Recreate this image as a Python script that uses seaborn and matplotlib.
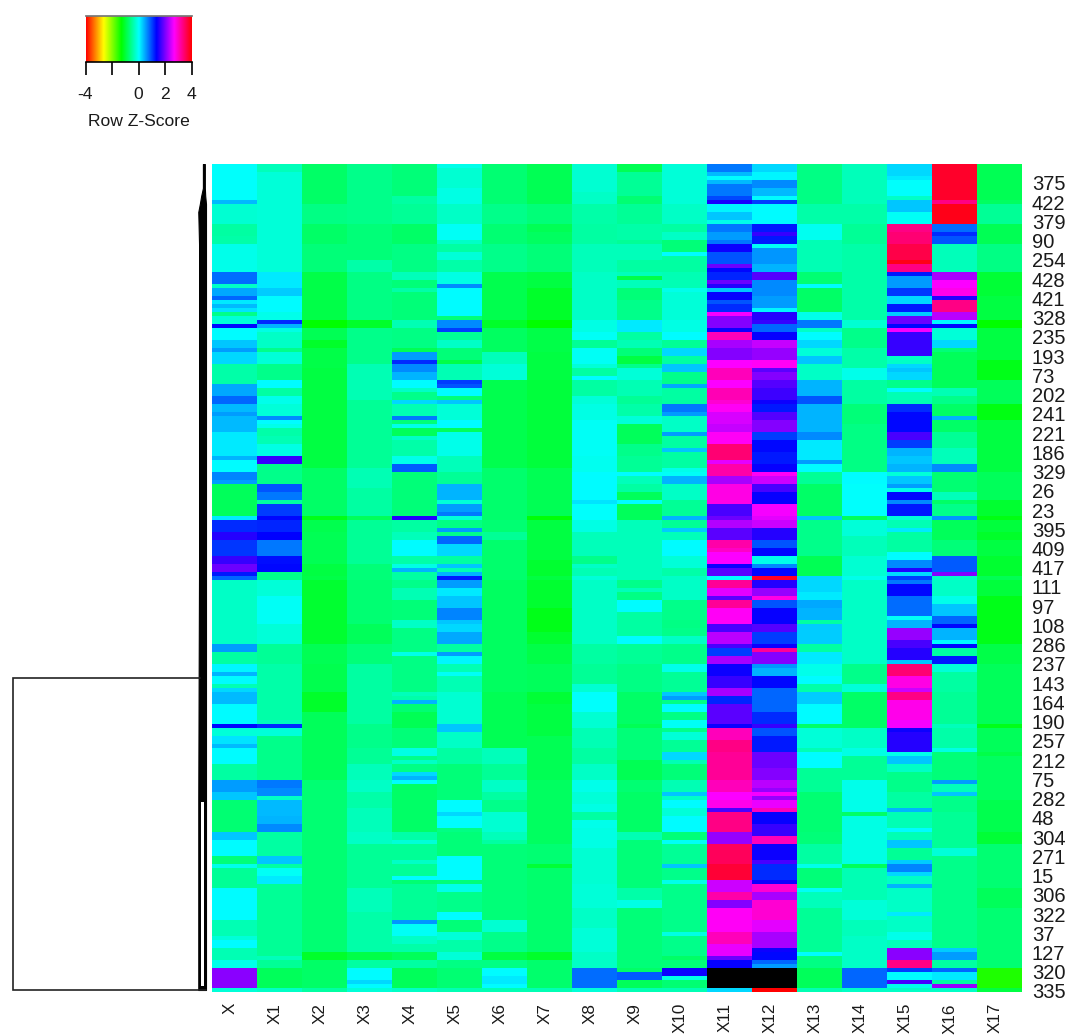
import numpy as np
import pandas as pd
import matplotlib
matplotlib.use("Agg")
import matplotlib.pyplot as plt
from matplotlib.colors import LinearSegmentedColormap
import seaborn as sns

# Each column: (first row of a band, row z-score of that band)
X = [(0,-.03),(9,.35),(10,-.25),(15,-.5),(18,-.45),(20,-.12),(27,.75),(30,-.3),(31,.45),(33,.8),(34,.1),(35,.35),(36,.15),(37,-.6),(38,-.2),(40,1.3),(41,0),(44,.3),(46,.5),(47,.2),(50,-.45),(55,.45),(58,.8),(60,.35),(62,.5),(63,.35),(67,.12),(73,.4),(74,0),(77,.65),(79,.5),(80,-.85),(88,.1),(89,1.1),(92,1.5),(94,1.05),(98,1.6),(100,1.9),(102,1.2),(103,.8),(104,-.3),(120,.5),(122,-.5),(125,.05),(127,.4),(128,0),(130,-.4),(131,.2),(132,.35),(135,0),(140,1.3),(141,-.2),(143,.15),(145,.35),(146,0),(150,-.5),(154,.5),(157,.3),(159,-.72),(167,.3),(169,0),(173,-.7),(175,-.1),(176,-.55),(181,0),(189,-.4),(193,-.2),(194,0),(196,-.4),(199,-.1),(201,2.05),(206,-.2)]
X1 = [(0,-.35),(2,-.2),(27,.1),(31,.25),(33,0),(37,-.1),(39,1.1),(40,.4),(41,-.15),(42,-.3),(46,-.6),(47,-.2),(50,-.6),(54,0),(56,-.5),(58,-.1),(60,-.2),(63,.6),(64,0),(65,-.1),(66,-.45),(68,-.4),(70,-.15),(73,1.6),(75,-.6),(80,.9),(82,.7),(84,-.5),(85,1.0),(88,1.3),(89,1.15),(92,1.33),(94,.7),(98,1.25),(100,1.3),(102,-.6),(104,-.2),(108,-.05),(115,-.2),(120,-.55),(125,-.45),(139,-.35),(140,1.1),(141,-.2),(143,-.6),(154,.7),(156,.6),(158,-.3),(159,.35),(163,.4),(165,.6),(167,-.5),(173,.3),(175,-.5),(176,-.05),(178,.1),(180,-.55),(198,-.35),(199,-.55),(201,-.85),(206,-.3)]
X2 = [(0,-.8),(10,-.65),(15,-.8),(20,-.7),(27,-.95),(39,-1.33),(41,-.9),(44,-1.1),(46,-.95),(51,-.98),(76,-.8),(88,-1.2),(89,-.92),(92,-.88),(100,-1.0),(103,-.95),(104,-1.08),(120,-.88),(125,-.92),(132,-1.1),(137,-.85),(154,-.75),(170,-.72),(197,-1.1),(199,-.8),(206,-.5)]
X3 = [(0,-.6),(15,-.7),(24,-.45),(27,-.65),(39,-1.1),(41,-.6),(50,-.4),(59,-.55),(76,-.4),(81,-.5),(88,-.85),(89,-.55),(100,-.7),(104,-.75),(115,-.85),(120,-.7),(125,-.5),(140,-.6),(146,-.55),(150,-.35),(154,-.3),(157,-.45),(161,-.35),(167,-.3),(170,-.55),(181,-.35),(187,-.45),(197,-.95),(199,-.5),(201,0),(204,.2),(205,0),(206,-.2)]
X4 = [(0,-.7),(8,-.5),(10,-.55),(15,-.8),(20,-.65),(27,-.35),(29,-.7),(31,-.45),(32,-.7),(39,-.4),(41,-.65),(46,-.9),(47,.5),(49,1.1),(50,.6),(52,.4),(54,0),(56,-.3),(57,-.6),(59,.2),(60,-.4),(63,.7),(64,-.7),(65,-.1),(66,-.85),(68,-.3),(69,-.45),(73,-.1),(75,.85),(77,-.7),(88,1.5),(89,-.5),(92,-.35),(94,0),(98,-.45),(100,-.15),(101,.4),(102,-.5),(104,-.6),(106,-.4),(109,-.7),(114,-.3),(116,-.65),(122,-.1),(123,-.65),(132,-.35),(133,-.45),(134,.4),(135,-.75),(137,-.9),(141,-.7),(146,-.15),(148,-.6),(149,-.3),(150,-.65),(152,.2),(153,.4),(154,0),(155,-.8),(167,-.45),(169,-.2),(170,-.55),(174,-.3),(175,-.55),(178,0),(179,-.75),(180,-.55),(189,.55),(190,-.05),(193,-.3),(195,-.45),(197,-.85),(199,-.5),(201,-.85),(206,-.3)]
X5 = [(0,-.1),(1,-.25),(6,-.15),(10,-.3),(15,-.05),(19,-.3),(20,-.5),(22,-.2),(24,-.45),(27,-.15),(30,.6),(31,0),(38,-.7),(39,.6),(41,1.0),(42,-.55),(44,-.3),(46,-.7),(49,-.95),(50,-.4),(54,1.0),(55,.9),(56,0),(58,-.7),(59,.3),(60,-.2),(64,0),(66,-.85),(67,-.1),(73,-.35),(77,-.55),(80,.4),(84,-.2),(85,.5),(87,.7),(88,-.2),(89,-.65),(91,.5),(92,-.6),(93,.8),(95,.2),(98,-.5),(100,.3),(101,-.4),(102,.4),(103,1.2),(104,.5),(106,.1),(108,.3),(111,.65),(114,.3),(115,.2),(117,.45),(120,-.5),(122,.5),(123,.05),(125,-.4),(127,-.05),(128,-.4),(132,-.25),(140,.3),(142,-.3),(146,-.5),(150,-.7),(159,0),(162,.2),(163,0),(166,-.65),(167,-.7),(173,0),(179,-.7),(180,-.1),(182,-.6),(187,0),(189,-.7),(192,-.2),(194,-.45),(197,-.2),(199,-.65),(201,-.75),(206,-.4)]
X6 = [(0,-.72),(10,-.62),(15,-.75),(20,-.62),(27,-.92),(39,-1.1),(41,-.82),(47,-.35),(50,-.2),(54,-.92),(76,-.78),(89,-.72),(92,-.55),(94,-.78),(104,-.82),(132,-.9),(146,-.35),(150,-.55),(154,-.3),(157,-.5),(159,-.6),(162,-.25),(167,-.35),(169,-.5),(170,-.7),(189,-.25),(192,-.6),(197,-1.0),(199,-.65),(201,0),(203,.1),(205,0),(206,-.4)]
X7 = [(0,-.9),(10,-.7),(15,-.9),(17,-.82),(20,-.7),(27,-1.0),(31,-1.1),(39,-1.33),(41,-.95),(47,-1.0),(54,-1.02),(76,-.9),(88,-1.3),(89,-.98),(99,-1.08),(103,-.98),(104,-1.08),(111,-1.2),(117,-1.08),(120,-.95),(125,-.85),(132,-1.05),(135,-1.0),(143,-.9),(154,-.82),(170,-.72),(175,-1.05),(176,-.78),(197,-1.1),(199,-.78),(206,-.4)]
X8 = [(0,-.25),(7,-.3),(10,-.45),(15,-.5),(20,-.35),(27,-.3),(39,-.15),(42,-.05),(44,-.55),(46,-.05),(50,-.2),(51,-.5),(53,0),(54,-.5),(58,-.2),(60,-.15),(64,-.06),(73,-.08),(77,.02),(84,.15),(85,-.02),(89,-.15),(92,-.35),(98,-.6),(100,-.3),(101,-.4),(103,-.2),(104,-.3),(120,-.5),(125,-.55),(130,-.25),(132,-.03),(137,-.25),(141,-.4),(146,-.5),(150,-.3),(154,-.1),(157,-.2),(160,-.15),(162,-.5),(164,-.1),(166,-.15),(171,-.25),(180,-.2),(186,-.3),(191,-.2),(197,-.3),(201,.75),(206,-.2)]
X9 = [(0,-.9),(2,-.55),(8,-.75),(10,-.55),(15,-.45),(19,-.55),(20,-.35),(24,-.5),(27,-.35),(28,-.95),(29,-.35),(31,-.7),(34,-.6),(39,.1),(42,-.5),(44,-.4),(46,-.7),(48,-1.0),(50,-.6),(51,-.2),(54,-.4),(58,-.55),(60,-.45),(63,-.2),(65,-.85),(70,-.6),(73,-.55),(77,0),(78,-.35),(80,-.5),(82,-.85),(84,0),(85,-.85),(89,-.35),(104,-.6),(106,-.35),(107,-.65),(109,0),(112,-.5),(118,0),(120,-.55),(125,-.65),(132,-.8),(140,-.9),(141,-.7),(149,-.9),(154,-.75),(157,-.8),(167,-.4),(169,-.7),(181,-.45),(184,-.15),(186,-.7),(201,-.8),(202,.85),(204,-.85),(206,-.4)]
X10 = [(0,-.2),(10,-.3),(15,-.5),(17,-.3),(19,-.7),(22,0),(23,-.5),(27,-.4),(31,-.1),(32,-.2),(39,-.15),(42,0),(44,-.55),(46,.2),(48,-.5),(50,.3),(52,-.6),(55,.45),(56,-.5),(60,.7),(62,.5),(63,-.3),(67,.5),(68,-.5),(71,.3),(72,-.5),(76,-.1),(77,-.05),(78,.4),(80,-.3),(84,-.55),(88,.4),(89,-.55),(91,.25),(92,-.35),(94,0),(98,-.2),(101,-.45),(103,-.3),(109,-.6),(114,-.65),(116,-.6),(118,-.3),(120,-.6),(125,-.1),(127,-.55),(132,.3),(133,.5),(134,-.65),(135,0),(137,-.65),(139,-.05),(141,-.6),(142,-.2),(144,-.55),(147,.2),(149,-.4),(150,-.7),(154,-.4),(157,.3),(158,-.3),(159,0),(161,-.2),(163,0),(167,-.7),(169,-.05),(170,-.55),(175,.3),(176,-.6),(179,-.1),(180,-.6),(192,-.15),(193,-.6),(198,-.8),(199,-.7),(201,1.4),(203,-.15),(204,-.75),(206,-.4)]
X11 = [(0,.7),(2,.35),(3,0),(4,.35),(5,.7),(8,.95),(9,1.45),(10,.05),(12,.3),(14,-.1),(15,.7),(17,.5),(19,.7),(20,1.4),(22,.9),(25,1.9),(26,1.3),(27,1.15),(29,1.9),(30,1.5),(31,.3),(32,1.35),(34,.9),(35,1.1),(37,2.6),(38,2.0),(41,1.4),(42,3.0),(44,2.2),(46,2.0),(49,2.65),(51,3.0),(54,2.65),(56,3.05),(59,2.9),(60,2.7),(62,2.45),(65,2.35),(67,2.7),(70,3.4),(74,2.5),(75,3.1),(78,2.2),(80,2.8),(85,1.7),(88,1.9),(89,2.25),(91,1.8),(94,3.1),(96,2.95),(97,2.65),(100,1.4),(101,1.8),(103,0),(104,3.2),(106,2.5),(108,1.8),(109,3.2),(111,2.7),(115,1.7),(117,2.3),(120,1.7),(121,1.0),(123,2.2),(125,1.4),(128,1.6),(131,2.2),(133,1.15),(135,1.8),(140,1.4),(141,3.0),(144,3.3),(147,3.2),(154,3.0),(157,2.65),(159,2.75),(161,1.7),(162,3.3),(167,2.1),(170,3.5),(175,3.7),(179,2.4),(182,3.1),(184,2.0),(186,2.7),(192,3.0),(195,2.55),(198,1.9),(199,1.35),(201,np.nan),(206,.2)]
X12 = [(0,.2),(2,.05),(4,.6),(6,.35),(8,0),(9,1.0),(10,0),(15,1.2),(17,1.6),(18,1.2),(20,-.05),(21,.55),(25,.4),(27,1.75),(29,.6),(33,.5),(36,.05),(37,1.5),(39,1.6),(40,.8),(42,1.35),(44,2.35),(46,2.1),(49,2.7),(51,1.8),(52,2.0),(54,1.75),(56,1.65),(59,1.4),(60,1.2),(62,1.75),(64,2.0),(67,1.0),(69,1.3),(72,1.2),(75,1.35),(77,2.7),(78,2.4),(80,1.7),(82,1.35),(85,2.6),(88,2.5),(89,2.4),(91,1.5),(94,.9),(96,1.3),(98,-.1),(100,.6),(101,1.3),(103,3.8),(104,1.5),(106,2.1),(108,2.8),(109,.9),(111,1.35),(115,1.75),(117,1.0),(120,1.4),(121,3.2),(122,2.0),(125,.55),(126,.4),(128,1.3),(131,.8),(137,1.1),(140,1.6),(141,.9),(143,1.2),(147,1.9),(151,2.0),(154,2.3),(156,2.1),(157,2.6),(158,2.1),(159,2.55),(161,3.0),(162,1.35),(165,1.6),(168,3.0),(170,1.4),(174,1.7),(175,1.1),(179,1.4),(180,2.9),(182,2.2),(184,2.9),(189,2.5),(192,2.2),(196,1.4),(197,1.3),(199,.8),(200,.5),(201,np.nan),(206,4.0)]
X13 = [(0,-.65),(10,-.45),(15,-.08),(19,-.4),(27,-.75),(30,0),(31,-.8),(37,-.1),(39,.7),(41,-.3),(42,0),(44,.2),(46,-.2),(48,.3),(50,-.3),(54,.4),(58,.9),(60,.4),(67,.6),(69,.1),(74,.5),(75,0),(77,-.55),(80,-.8),(88,.3),(89,-.6),(98,-.9),(103,.2),(107,.1),(109,.45),(111,.4),(114,-.5),(115,.25),(120,-.5),(122,.1),(125,-.1),(128,0),(130,-.45),(132,.25),(135,0),(140,-.8),(141,-.2),(146,-.4),(147,0),(151,-.55),(157,-.75),(167,-.7),(170,-.5),(175,-.1),(176,-.7),(181,-.05),(182,-.35),(186,-.55),(197,0),(198,-.65),(201,-.85),(206,-.4)]
X14 = [(0,-.35),(10,-.45),(15,-.55),(20,-.45),(39,-.25),(41,-.6),(46,-.45),(51,-.1),(54,-.5),(60,-.7),(65,-.65),(77,0),(80,-.02),(88,-.85),(89,-.2),(93,-.35),(98,-.25),(103,-.1),(104,-.3),(125,-.6),(130,-.2),(132,-.8),(141,-.3),(146,-.15),(148,-.55),(154,-.1),(162,-.8),(163,-.15),(175,-.85),(176,-.4),(184,-.2),(189,-.35),(193,-.3),(201,.8),(206,-.3)]
X15 = [(0,.2),(3,.1),(4,-.02),(8,-.3),(9,.3),(12,-.05),(15,3.3),(17,3.4),(20,3.6),(24,3.85),(25,3.3),(27,1.2),(28,.5),(31,1.05),(33,.2),(35,1.2),(37,.25),(38,1.9),(40,1.3),(41,2.6),(42,1.6),(48,-.3),(50,.2),(51,.3),(52,.2),(54,-.6),(56,0),(57,-.4),(60,1.1),(62,1.3),(67,1.7),(69,1.0),(71,.4),(73,.3),(75,.4),(77,-.2),(78,.3),(80,.5),(81,-.1),(82,1.3),(84,.6),(85,1.2),(88,-.2),(89,-.4),(91,.1),(92,-.5),(97,0),(99,.6),(101,1.5),(102,.2),(103,1.0),(104,.7),(105,1.3),(108,.75),(113,-.05),(114,.4),(116,2.1),(119,1.7),(121,1.5),(124,.3),(125,3.4),(128,2.8),(131,2.4),(132,3.3),(134,2.75),(139,2.6),(141,1.4),(142,1.5),(147,-.1),(148,.3),(150,-.3),(152,-.6),(157,-.5),(161,.4),(162,-.4),(166,0),(167,-.4),(169,.3),(171,-.55),(174,.25),(175,.65),(177,.2),(178,-.3),(180,.4),(181,-.3),(187,.1),(188,-.3),(192,-.1),(194,-.35),(196,2.05),(199,3.3),(201,1.0),(202,0),(204,1.7),(205,-.1),(206,-.3)]
X16 = [(0,3.75),(9,3.3),(10,3.85),(15,.75),(17,1.1),(18,.9),(20,-.35),(27,2.2),(29,2.65),(31,2.75),(33,1.5),(34,3.3),(37,2.3),(39,0),(40,1.3),(41,-.2),(44,.2),(46,-.7),(47,-.85),(56,-.4),(58,-.6),(60,-.8),(63,.4),(64,-.8),(67,-.55),(71,-.35),(75,.6),(77,-.75),(82,-.35),(84,-.8),(85,-.6),(88,.55),(89,-.85),(94,-.7),(98,.85),(102,2.0),(103,-.3),(108,-.1),(110,.3),(113,.8),(115,1.3),(116,.4),(119,0),(120,1.3),(121,-.5),(123,1.2),(125,-.2),(127,-.5),(132,-.55),(140,-.35),(141,-.45),(146,-.15),(147,-.7),(154,.5),(155,-.35),(157,.3),(158,-.6),(162,-.55),(171,-.2),(173,-.6),(196,.25),(197,.5),(199,-.5),(201,.8),(202,.1),(204,-.5),(205,2.1),(206,-.3)]
X17 = [(0,-.9),(9,-.82),(10,-.55),(15,-.9),(20,-.65),(27,-1.05),(33,-1.0),(39,-1.33),(41,-1.0),(49,-1.2),(54,-.85),(60,-1.25),(64,-1.0),(77,-.85),(84,-1.08),(88,-1.25),(89,-1.02),(92,-1.12),(94,-.98),(98,-1.08),(103,-.9),(104,-1.02),(108,-1.2),(120,-.95),(125,-.85),(140,-1.2),(141,-.85),(147,-.95),(148,-.82),(159,-.92),(167,-1.05),(170,-.75),(181,-.85),(186,-.75),(201,-1.5),(206,-1.0)]

col_names = ["X", "X1", "X2", "X3", "X4", "X5", "X6", "X7", "X8", "X9", "X10", "X11", "X12", "X13", "X14", "X15", "X16", "X17"]
col_bands = [X, X1, X2, X3, X4, X5, X6, X7, X8, X9, X10, X11, X12, X13, X14, X15, X16, X17]
row_labels = ["375","422","379","90","254","428","421","328","235","193","73","202","241","221","186","329","26","23","395","409","417","111","97","108","286","237","143","164","190","257","212","75","282","48","304","271","15","306","322","37","127","320","335"]
n_rows = 207

# Dendrogram: outermost merge and the compressed trunk
root_merge_rows = [128.5, 206.5]
root_height = 1.0
trunk_rows = [0, 6, 8, 10, 12, 20, 50, 100, 128, 159, 206.5]
trunk_left = [.016, .016, .025, .032, .04, .036, .036, .036, .038, .04, .04]
trunk_right = [.006, .006, .004, .0, .0, .0, .0, .0, .0, .0, .0]
gap_rows = [159.5, 205.5]
gap_left = [.028, .028]
gap_right = [.012, .012]

def expand(bands):
    col = np.zeros(n_rows)
    for (start, z), (nxt, _) in zip(bands, bands[1:] + [(n_rows, 0)]):
        col[start:nxt] = z
    return col

data = pd.DataFrame({n: expand(b) for n, b in zip(col_names, col_bands)})

W, H = 1067, 1036
def axes_px(x0, y0, x1, y1):
    return fig.add_axes([x0 / W, 1 - y1 / H, (x1 - x0) / W, (y1 - y0) / H])

sns.set_theme(style="white")
plt.rcParams["font.family"] = ["Liberation Sans", "DejaVu Sans"]
text_col = "#1a1a1a"

rainbow = LinearSegmentedColormap.from_list(
    "rainbow_r", ["#ff0000", "#ffff00", "#00ff00", "#00ffff", "#0000ff", "#ff00ff", "#ff0000"], N=256)
rainbow.set_bad("black")

fig = plt.figure(figsize=(W / 100, H / 100), dpi=100, facecolor="white")

# main heatmap
ax = axes_px(212, 164, 1022, 992)
sns.heatmap(data, ax=ax, cmap=rainbow, vmin=-4, vmax=4, cbar=False, xticklabels=False, yticklabels=False)
ax.set_facecolor("black")
ax.set_xticks(np.arange(len(col_names)) + 0.4)
ax.set_xticklabels(col_names, rotation=90, fontsize=12.3, color=text_col, va="top")
ax.yaxis.tick_right()
ax.set_yticks(np.linspace(4.75, 206.75, len(row_labels)))
ax.set_yticklabels(row_labels, rotation=0, fontsize=14.5, color=text_col)
ax.tick_params(axis="x", length=0, pad=8)
ax.tick_params(axis="y", length=0, pad=7)
for s in ax.spines.values():
    s.set_visible(False)
ax.set_xlabel("")
ax.set_ylabel("")

# dendrogram
dax = axes_px(0, 164, 212, 992)
dax.set_xlim(1.0 + 13 / 193, -6 / 193)
dax.set_ylim(n_rows, 0)
dax.axis("off")
dax.fill_betweenx(trunk_rows, trunk_left, trunk_right, color="black", lw=0.8)
dax.fill_betweenx(gap_rows, gap_left, gap_right, color="white", lw=0)
dax.plot([0.03, root_height, root_height, 0.0],
         [root_merge_rows[0], root_merge_rows[0], root_merge_rows[1], root_merge_rows[1]],
         color="#222222", lw=1.2, solid_joinstyle="miter")

# colour key
kax = axes_px(85.5, 15.5, 191.5, 62)
key_values = np.linspace(-4, 4, 256)[None, :]
kax.imshow(key_values, cmap=rainbow, vmin=-4, vmax=4, aspect="auto", extent=[-4, 4, 0, 1])
kax.set_yticks([])
kax.set_xticks([-4, -2, 0, 2, 4])
kax.set_xticklabels(["-4", "", "0", "2", "4"], fontsize=12.6, color=text_col)
kax.tick_params(axis="x", length=9, width=1.2, color="black", pad=9, bottom=True)
kax.spines["bottom"].set_linewidth(1.2)
kax.spines["bottom"].set_color("black")
kax.spines["top"].set_color("#777777")
kax.spines["left"].set_visible(False)
kax.spines["right"].set_visible(False)
kax.set_xlabel("Row Z-Score", fontsize=12.6, color=text_col, labelpad=9)

fig.savefig("out.png", dpi=100)
